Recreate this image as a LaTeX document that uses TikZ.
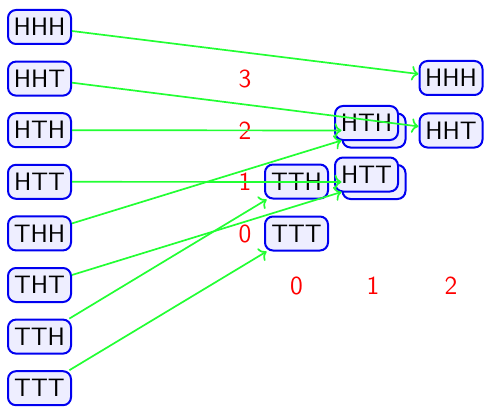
\documentclass[tikz,border=0pt]{standalone}
\usepackage{xcolor}
\usepackage{tikz}
\usetikzlibrary{arrows.meta}
\definecolor{boxfill}{HTML}{EEEEFF}
\definecolor{boxline}{HTML}{0000F0}
\definecolor{move}{HTML}{22FF33}
\tikzset{
  state/.style={draw=boxline, fill=boxfill, line width=1pt, rounded corners=4pt,
    minimum width=31.5pt, minimum height=17pt, inner sep=1pt,
    font=\sffamily\fontsize{12.6}{15}\selectfont},
  trans/.style={draw=move, line width=0.85pt, ->},
  num/.style={text=red, font=\sffamily\fontsize{13}{15}\selectfont},
}

\begin{document}
\begin{tikzpicture}[x=0.5pt,y=-0.5pt]
  \useasboundingbox (0,0) rectangle (503,417);

  % left column: all eight sequences
  \foreach \w [count=\i from 0] in {HHH,HHT,HTH,HTT,THH,THT,TTH,TTT}
    \node[state] (l\w) at (39.5,27+51.6*\i) {\w};

  % right side
  \node[state] (rHHH) at (451,78) {HHH};
  \node[state] (rHHT) at (451,130.5) {HHT};
  \node[state] (bHTH) at (374,130.5) {\phantom{HTH}};
  \node[state] (rHTH) at (366.5,123) {HTH};
  \node[state] (bHTT) at (374,182) {\phantom{HTT}};
  \node[state] (rHTT) at (366.5,174.5) {HTT};
  \node[state] (rTTH) at (296.5,181.5) {TTH};
  \node[state] (rTTT) at (296.5,233.5) {TTT};

  % numbers
  \node[num] (n3) at (245,79) {3};
  \node[num] (n2) at (245,131) {2};
  \node[num] (n1) at (245,182) {1};
  \node[num] (n0) at (245,234) {0};
  \node[num] (c0) at (296.5,286) {0};
  \node[num] (c1) at (373,286) {1};
  \node[num] (c2) at (451,286) {2};

  % transitions
  \draw[trans] (lHHH) -- (rHHH);
  \draw[trans] (lHHT) -- (rHHT);
  \draw[trans] (lHTH) -- (bHTH);
  \draw[trans] (lTHH) -- (bHTH);
  \draw[trans] (lHTT) -- (bHTT);
  \draw[trans] (lTHT) -- (bHTT);
  \draw[trans] (lTTH) -- (rTTH);
  \draw[trans] (lTTT) -- (rTTT);
\end{tikzpicture}
\end{document}
